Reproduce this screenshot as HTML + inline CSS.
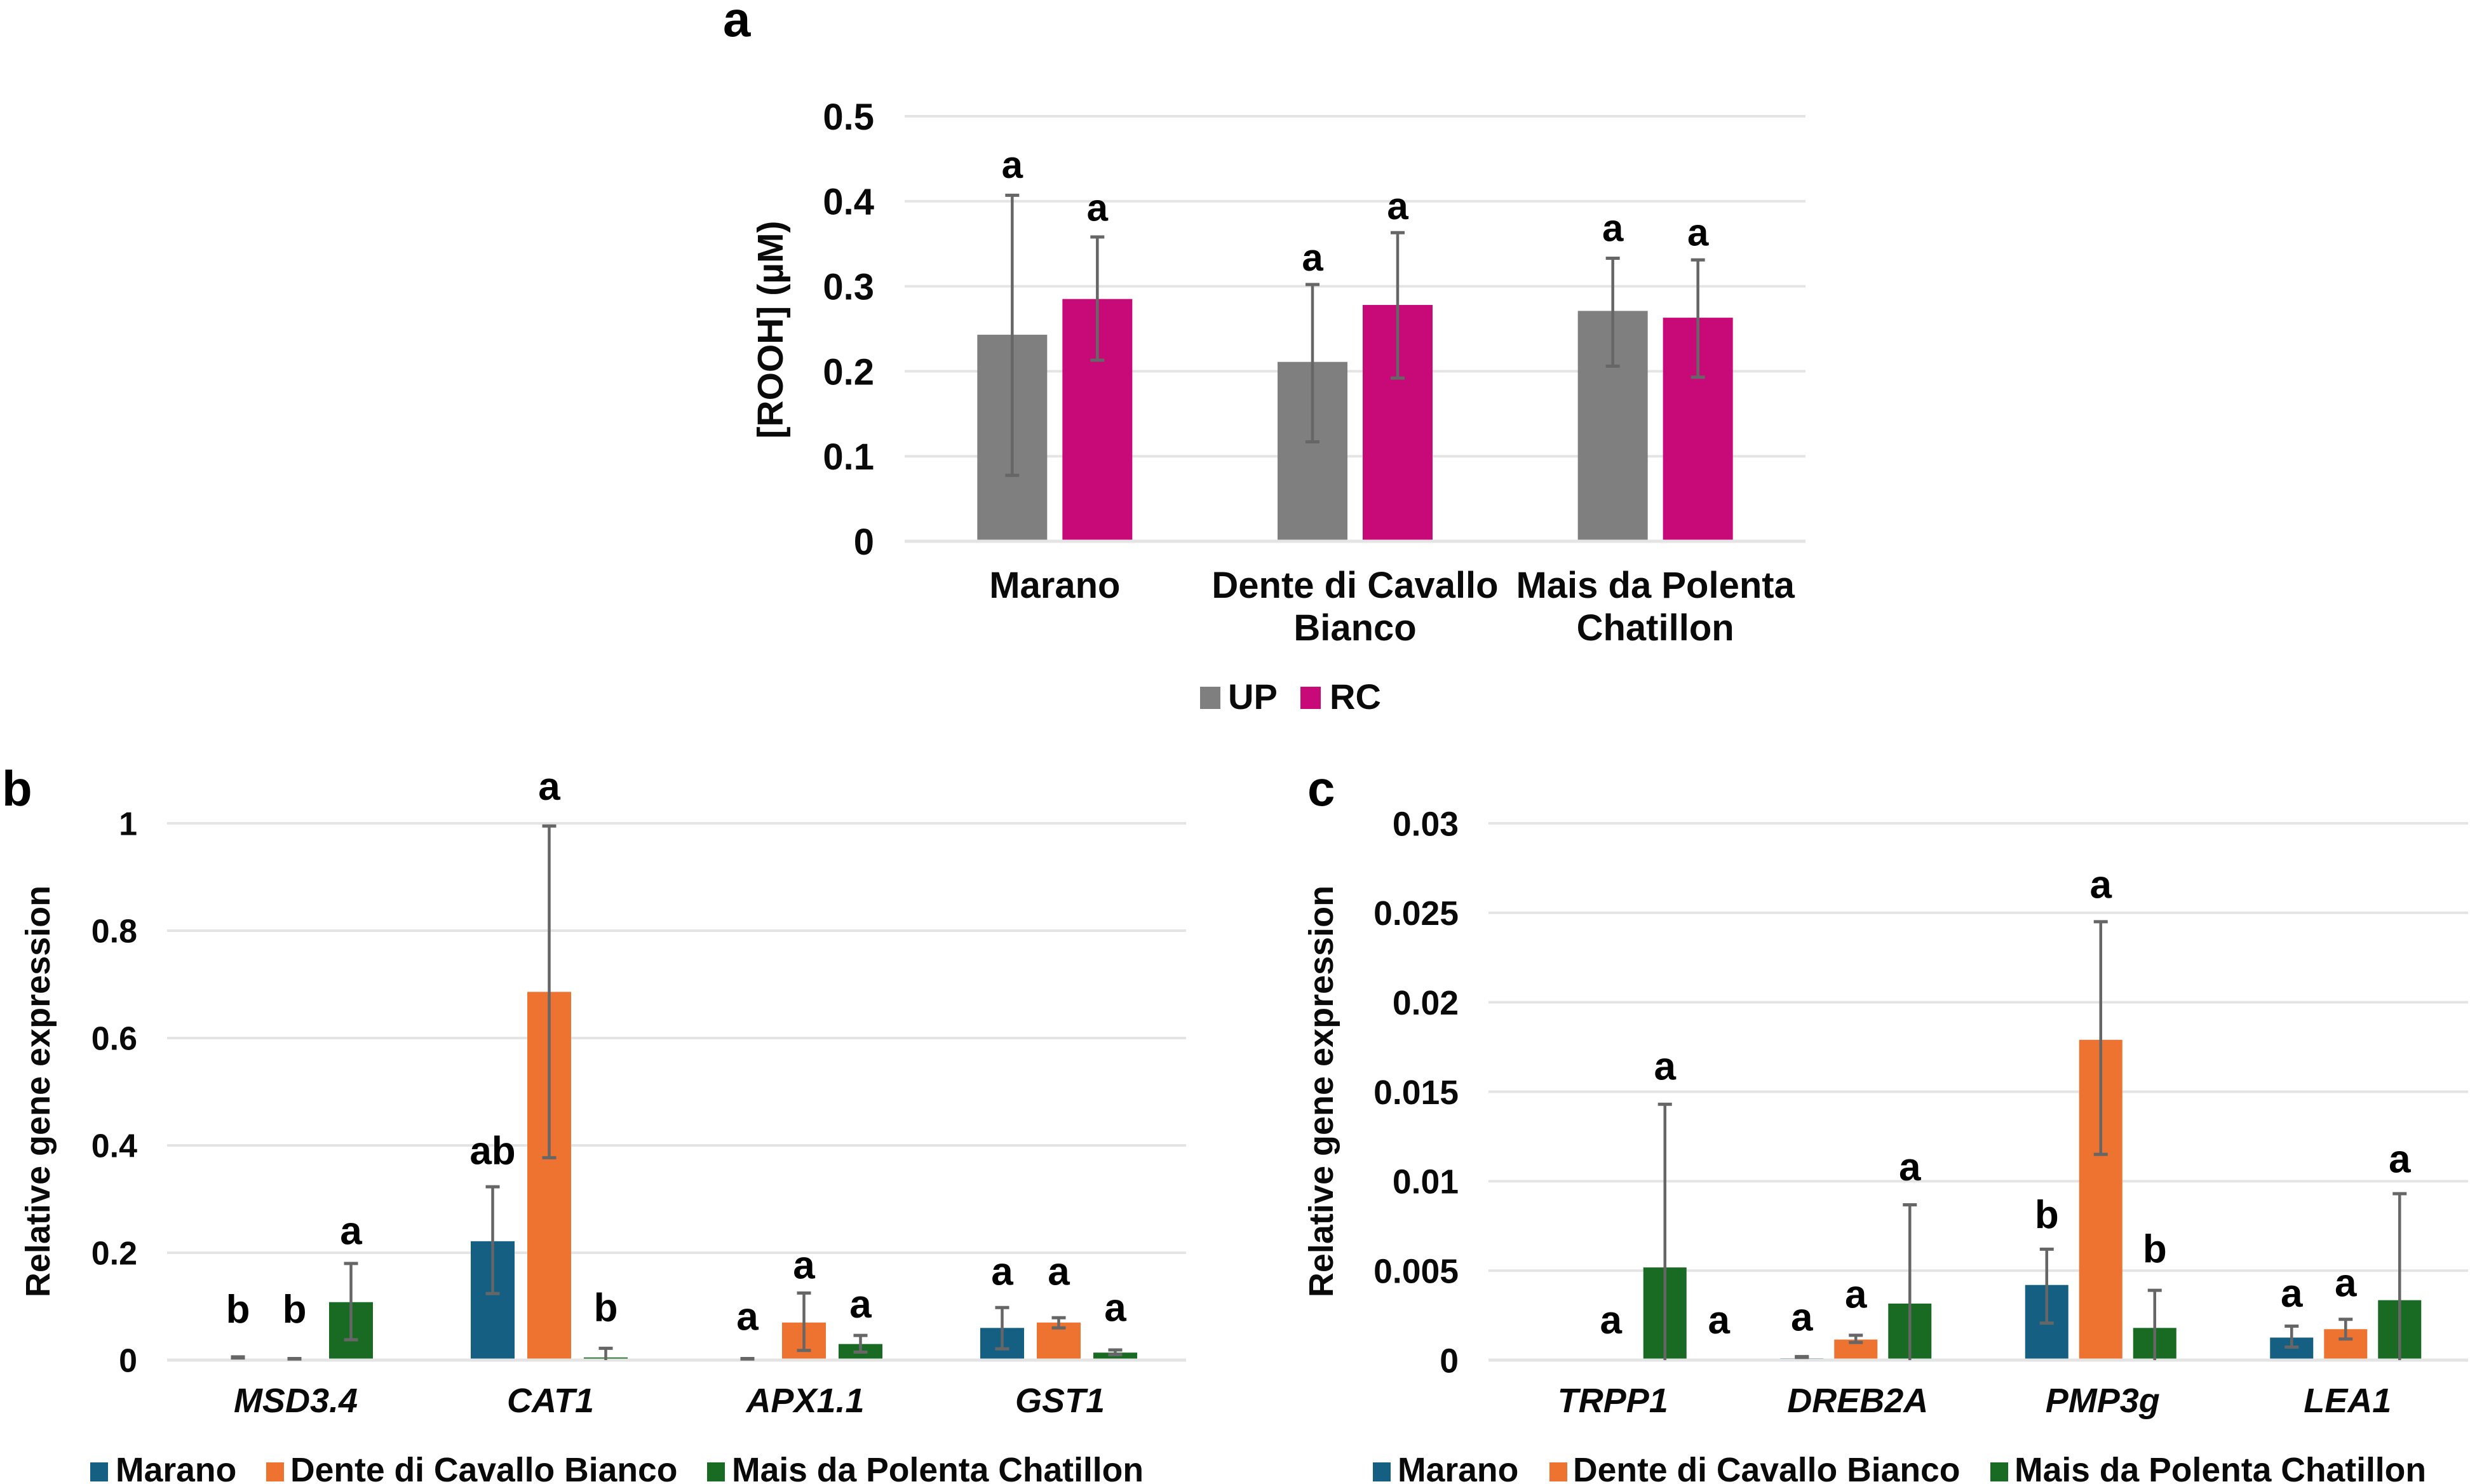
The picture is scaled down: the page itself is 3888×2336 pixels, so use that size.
<!DOCTYPE html>
<html lang="en">
<head>
<meta charset="utf-8">
<title>ROOH and relative gene expression charts</title>
<style>
  html, body { margin: 0; padding: 0; background: #ffffff; }
  svg { display: block; font-family: "Liberation Sans", Arial, sans-serif; font-weight: bold; }
</style>
</head>
<body>
<svg id="figure" xmlns="http://www.w3.org/2000/svg" width="3888" height="2336" viewBox="0 0 3888 2336">
  <rect width="3888" height="2336" fill="#ffffff"/>
  <text x="1138" y="57" font-size="78" fill="#000">a</text>
  <text x="3" y="1268" font-size="78" fill="#000">b</text>
  <text x="2058" y="1268" font-size="78" fill="#000">c</text>
  <g id="panel-a"></g>
  <g id="panel-b"></g>
  <g id="panel-c"></g>
</svg>
<script>
/* ---------- Panel a data ---------- */
const aCategories = [["Marano"], ["Dente di Cavallo", "Bianco"], ["Mais da Polenta", "Chatillon"]];
const aTickLabels = ["0", "0.1", "0.2", "0.3", "0.4", "0.5"];
const aTickValues = [0, 0.1, 0.2, 0.3, 0.4, 0.5];
const aSeriesNames = ["UP", "RC"];
const aUp = [0.243, 0.211, 0.271];
const aUpHigh = [0.407, 0.302, 0.333];
const aUpLow = [0.0775, 0.117, 0.206];
const aRc = [0.285, 0.278, 0.263];
const aRcHigh = [0.358, 0.363, 0.331];
const aRcLow = [0.213, 0.192, 0.193];
const aLetters = [["a", "a"], ["a", "a"], ["a", "a"]];
const aLetterLevels = [[0.4275, 0.377], [0.3185, 0.379], [0.353, 0.348]];

/* ---------- Panel b data ---------- */
const bCategories = [["MSD3.4"], ["CAT1"], ["APX1.1"], ["GST1"]];
const bTickLabels = ["0", "0.2", "0.4", "0.6", "0.8", "1"];
const bTickValues = [0, 0.2, 0.4, 0.6, 0.8, 1];
const geneSeriesNames = ["Marano", "Dente di Cavallo Bianco", "Mais da Polenta Chatillon"];
const bMarano = [0.002, 0.2215, 0.001, 0.06];
const bMaranoHigh = [0.006, 0.323, 0.003, 0.098];
const bMaranoLow = [0.004, 0.124, 0.002, 0.021];
const bDente = [0.001, 0.686, 0.07, 0.07];
const bDenteHigh = [0.003, 0.995, 0.125, 0.079];
const bDenteLow = [0.002, 0.377, 0.018, 0.06];
const bMais = [0.108, 0.005, 0.03, 0.014];
const bMaisHigh = [0.18, 0.022, 0.046, 0.019];
const bMaisLow = [0.038, 0, 0.015, 0.01];
const bLetters = [["b", "b", "a"], ["ab", "a", "b"], ["a", "a", "a"], ["a", "a", "a"]];
const bLetterLevels = [[0.07, 0.07, 0.216], [0.365, 1.044, 0.073], [0.056, 0.152, 0.079], [0.14, 0.14, 0.073]];

/* ---------- Panel c data ---------- */
const cCategories = [["TRPP1"], ["DREB2A"], ["PMP3g"], ["LEA1"]];
const cTickLabels = ["0", "0.005", "0.01", "0.015", "0.02", "0.025", "0.03"];
const cTickValues = [0, 0.005, 0.01, 0.015, 0.02, 0.025, 0.03];
const cMarano = [0, 0.0001, 0.0042, 0.00126];
const cMaranoHigh = [0, 0.0002, 0.0062, 0.0019];
const cMaranoLow = [0, 0.00015, 0.00207, 0.00073];
const cDente = [0, 0.00115, 0.0179, 0.00173];
const cDenteHigh = [0, 0.00139, 0.0245, 0.00228];
const cDenteLow = [0, 0.00099, 0.0115, 0.00118];
const cMais = [0.00518, 0.00316, 0.0018, 0.00335];
const cMaisHigh = [0.0143, 0.00868, 0.0039, 0.0093];
const cMaisLow = [0, 0, 0, 0];
const cLetters = [[null, "a", "a", "a"], ["a", "a", "a"], ["b", "a", "b"], ["a", "a", "a"]];
const cLetterLevels = [[null, 0.00149, 0.01567, 0.00149], [0.00165, 0.00293, 0.01004], [0.00738, 0.02582, 0.00547], [0.00298, 0.00356, 0.01049]];

/* ---------- Drawing ---------- */
const SVG_NS = "http://www.w3.org/2000/svg";
const TEXT_COLOR = "#0a0a0a";
function mk(tag, attrs, parent) {
  const node = document.createElementNS(SVG_NS, tag);
  for (const key in attrs) node.setAttribute(key, attrs[key]);
  parent.appendChild(node);
  return node;
}

function drawChart(cfg) {
  const root = document.getElementById(cfg.id);
  const maxV = cfg.ticks[cfg.ticks.length - 1];
  const yScale = v => cfg.y0 - (v / maxV) * (cfg.y0 - cfg.yTop);
  const catW = (cfg.right - cfg.left) / cfg.categories.length;
  const catX = i => cfg.left + catW * (i + 0.5);
  const slotX = (i, s) => catX(i) + (s - (cfg.series.length - 1) / 2) * cfg.spacing;

  cfg.ticks.forEach((t, i) => {
    if (t !== 0) {
      const grid = mk("line", { x1: cfg.left, x2: cfg.right, y1: yScale(t), y2: yScale(t), stroke: "#e4e4e4", "stroke-width": 4 }, root);
      
      
    }
    const tick = mk("text", { x: cfg.tickX, y: yScale(t) + cfg.tickSize * 0.36, "text-anchor": "end", "font-size": cfg.tickSize, fill: TEXT_COLOR }, root);
    tick.textContent = cfg.tickLabels[i];
    
    
  });

  cfg.series.forEach((s, si) => {
    s.values.forEach((v, i) => {
      if (v <= 0) return;
      const yv = yScale(v);
      const bar = mk("rect", { x: slotX(i, si) - cfg.barW / 2, y: yv, width: cfg.barW, height: cfg.y0 - yv, fill: s.color }, root);
      
      
    });
  });

  const axis = mk("line", { x1: cfg.left, x2: cfg.right, y1: cfg.y0, y2: cfg.y0, stroke: "#e4e4e4", "stroke-width": 5 }, root);
  
  

  cfg.series.forEach((s, si) => {
    s.values.forEach((v, i) => {
      if (s.high[i] <= 0) return;
      const x = slotX(i, si);
      const yHi = yScale(s.high[i]);
      const yLo = yScale(s.low[i]);
      const stem = mk("line", { x1: x, x2: x, y1: yHi, y2: yLo, stroke: "#666666", "stroke-width": 4.5 }, root);
      
      
      const capTop = mk("line", { x1: x - 11, x2: x + 11, y1: yHi, y2: yHi, stroke: "#666666", "stroke-width": 5 }, root);
      
      
      if (s.low[i] > 0) {
        const capLow = mk("line", { x1: x - 11, x2: x + 11, y1: yLo, y2: yLo, stroke: "#666666", "stroke-width": 5 }, root);
        
        
      }
    });
  });

  cfg.letters.forEach((group, i) => {
    group.forEach((letter, s) => {
      if (!letter) return;
      const mark = mk("text", { x: slotX(i, s), y: yScale(cfg.letterLevels[i][s]), "text-anchor": "middle", "font-size": cfg.letterSize, fill: "#000" }, root);
      mark.textContent = letter;
      
      
    });
  });

  cfg.categories.forEach((lines, i) => {
    lines.forEach((line, li) => {
      const label = mk("text", { x: catX(i) + cfg.catShift, y: cfg.catY + li * cfg.catLine, "text-anchor": "middle", "font-size": cfg.catSize, "font-style": cfg.catStyle, fill: TEXT_COLOR }, root);
      label.textContent = line;
      
      
    });
  });

  const title = mk("text", { x: 0, y: 0, transform: "translate(" + cfg.titleX + " " + cfg.titleY + ") rotate(-90)", "text-anchor": "middle", "font-size": cfg.titleSize, fill: TEXT_COLOR }, root);
  title.textContent = cfg.title;
  
  

  cfg.series.forEach((s, si) => {
    const swatch = mk("rect", { x: cfg.legendSwatchX[si], y: cfg.legendY - cfg.legendSwatch, width: cfg.legendSwatchW, height: cfg.legendSwatch, fill: s.color }, root);
    
    
    const entry = mk("text", { x: cfg.legendTextX[si], y: cfg.legendY, "font-size": cfg.legendSize, fill: TEXT_COLOR }, root);
    entry.textContent = s.name;
    
    
  });
}

drawChart({
  id: "panel-a", left: 1424, right: 2842, y0: 852, yTop: 183,
  ticks: aTickValues, tickLabels: aTickLabels, tickX: 1376, tickSize: 58,
  categories: aCategories, catShift: 0, catY: 941, catLine: 67, catSize: 58, catStyle: "normal",
  barW: 110, spacing: 134,
  series: [
    { name: aSeriesNames[0], color: "#7f7f7f", values: aUp, high: aUpHigh, low: aUpLow },
    { name: aSeriesNames[1], color: "#c70a78", values: aRc, high: aRcHigh, low: aRcLow }
  ],
  letters: aLetters, letterLevels: aLetterLevels, letterSize: 60,
  title: "[ROOH] (\u00b5M)", titleX: 1232, titleY: 519, titleSize: 57,
  legendSwatchX: [1889, 2047], legendTextX: [1933, 2093], legendY: 1116,
  legendSwatch: 35, legendSwatchW: 32, legendSize: 56
});

drawChart({
  id: "panel-b", left: 263, right: 1867, y0: 2141, yTop: 1296,
  ticks: bTickValues, tickLabels: bTickLabels, tickX: 216, tickSize: 52,
  categories: bCategories, catShift: 2, catY: 2223, catLine: 0, catSize: 54, catStyle: "italic",
  barW: 69, spacing: 89,
  series: [
    { name: geneSeriesNames[0], color: "#156082", values: bMarano, high: bMaranoHigh, low: bMaranoLow },
    { name: geneSeriesNames[1], color: "#ef7330", values: bDente, high: bDenteHigh, low: bDenteLow },
    { name: geneSeriesNames[2], color: "#196b24", values: bMais, high: bMaisHigh, low: bMaisLow }
  ],
  letters: bLetters, letterLevels: bLetterLevels, letterSize: 62,
  title: "Relative gene expression", titleX: 78, titleY: 1718, titleSize: 54,
  legendSwatchX: [142, 419, 1113], legendTextX: [182, 457, 1152], legendY: 2332,
  legendSwatch: 30, legendSwatchW: 28, legendSize: 53.5
});

drawChart({
  id: "panel-c", left: 2343, right: 3885, y0: 2141, yTop: 1296,
  ticks: cTickValues, tickLabels: cTickLabels, tickX: 2296, tickSize: 53.5,
  categories: cCategories, catShift: 3, catY: 2223, catLine: 0, catSize: 54, catStyle: "italic",
  barW: 68, spacing: 85,
  series: [
    { name: geneSeriesNames[0], color: "#156082", values: cMarano, high: cMaranoHigh, low: cMaranoLow },
    { name: geneSeriesNames[1], color: "#ef7330", values: cDente, high: cDenteHigh, low: cDenteLow },
    { name: geneSeriesNames[2], color: "#196b24", values: cMais, high: cMaisHigh, low: cMaisLow }
  ],
  letters: cLetters, letterLevels: cLetterLevels, letterSize: 62,
  title: "Relative gene expression", titleX: 2098, titleY: 1718, titleSize: 54,
  legendSwatchX: [2161, 2439, 3133], legendTextX: [2200, 2476, 3171], legendY: 2332,
  legendSwatch: 30, legendSwatchW: 28, legendSize: 53.5
});
</script>
</body>
</html>
